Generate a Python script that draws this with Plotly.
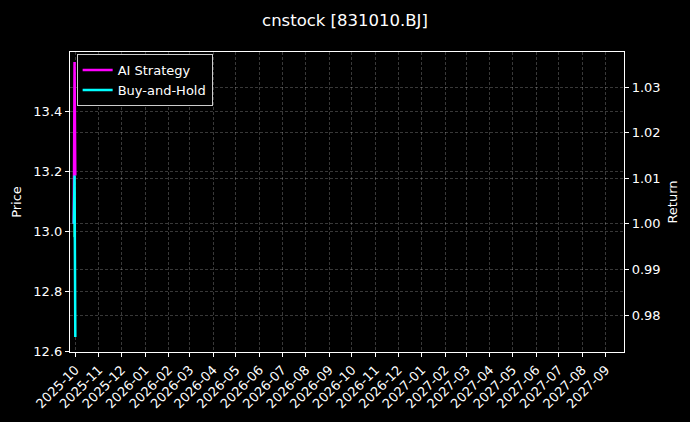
import plotly.graph_objects as go

# data
dates = ["2025-09-29", "2025-09-30", "2025-10-01"]
price = [12.98, 13.24, 12.97]
ai_strategy = [1.0, 1.0355, 1.0106]
buy_and_hold = [1.0, 1.0106, 0.9752]

month_ticks = ["2025-10", "2025-11", "2025-12", "2026-01", "2026-02", "2026-03",
               "2026-04", "2026-05", "2026-06", "2026-07", "2026-08", "2026-09",
               "2026-10", "2026-11", "2026-12", "2027-01", "2027-02", "2027-03",
               "2027-04", "2027-05", "2027-06", "2027-07", "2027-08", "2027-09"]

font = "DejaVu Sans"
grid = "rgba(255,255,255,0.22)"

fig = go.Figure()
fig.add_trace(go.Scatter(x=dates, y=price, mode="lines", name="Price",
                         line=dict(color="#2ecc71", width=1), showlegend=False, yaxis="y"))
fig.add_trace(go.Scatter(x=dates, y=ai_strategy, mode="lines", name="AI Strategy",
                         line=dict(color="#ff00ff", width=2.5), yaxis="y2"))
fig.add_trace(go.Scatter(x=dates, y=buy_and_hold, mode="lines", name="Buy-and-Hold",
                         line=dict(color="#00ffff", width=2.5), yaxis="y2"))

axis_style = dict(ticks="outside", ticklen=4, tickcolor="white",
                  showline=True, linecolor="white", linewidth=1.2,
                  showgrid=True, gridcolor=grid, griddash="3px,2px", gridwidth=0.6,
                  zeroline=False, automargin=False)

fig.update_layout(
    width=690, height=422,
    paper_bgcolor="black", plot_bgcolor="black",
    font=dict(family=font, color="white", size=13),
    title=dict(text="cnstock [831010.BJ]", x=0.5, xanchor="center", y=0.953, yanchor="middle",
               font=dict(size=16.5, color="white")),
    margin=dict(l=70, r=66, t=52, b=70),
    xaxis=dict(
        range=["2025-09-24", "2027-09-25"],
        tickvals=[m + "-01" for m in month_ticks], ticktext=month_ticks,
        tickangle=-45, mirror=True, **axis_style,
    ),
    yaxis=dict(
        title=dict(text="Price", standoff=8, font=dict(size=13)),
        range=[12.597, 13.597], dtick=0.2, tickformat=".1f",
        **axis_style,
    ),
    yaxis2=dict(
        title=dict(text="Return", standoff=8, font=dict(size=13)),
        overlaying="y", side="right",
        range=[0.9719, 1.0377], dtick=0.01, tickformat=".2f",
        **axis_style,
    ),
    legend=dict(x=0.012, y=0.993, xanchor="left", yanchor="top",
                bgcolor="black", bordercolor="#cccccc", borderwidth=1,
                font=dict(size=13, color="white")),
)

fig.write_html("out.html", config={"displayModeBar": False},
               post_script="document.body.style.margin='0';document.body.style.background='black';")
